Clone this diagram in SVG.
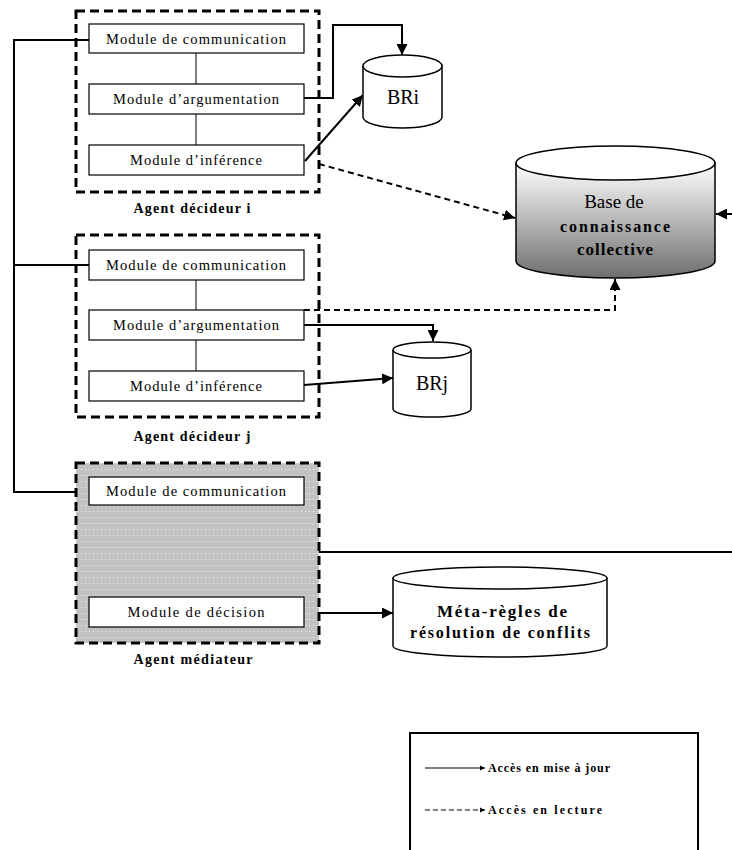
<svg xmlns="http://www.w3.org/2000/svg" width="732" height="850" viewBox="0 0 732 850">
  <style>
    .agent { fill: none; stroke: #000; stroke-width: 3; stroke-dasharray: 9 5; }
    .mod { fill: #fff; stroke: #000; stroke-width: 1.2; }
    .mtxt { font-family: "Liberation Serif", serif; font-size: 14.5px; fill: #000; text-anchor: middle; }
    .lbl { font-family: "Liberation Serif", serif; font-size: 14px; font-weight: bold; fill: #000; text-anchor: middle; }
    .db { stroke: #000; stroke-width: 1.5; }
    .dbtxt { font-family: "Liberation Serif", serif; fill: #000; text-anchor: middle; }
    .solid { fill: none; stroke: #000; stroke-width: 2; }
    .thin { fill: none; stroke: #000; stroke-width: 1; }
    .dash { fill: none; stroke: #000; stroke-width: 2; stroke-dasharray: 6 4; }
    .legtxt { font-family: "Liberation Serif", serif; font-size: 12px; font-weight: bold; fill: #000; }
  </style>
  <defs>
    <marker id="arr" viewBox="0 0 10 10" refX="10" refY="5" markerWidth="5.5" markerHeight="5.5" orient="auto" markerUnits="strokeWidth">
      <path d="M0,0 L10,5 L0,10 z" fill="#000"/>
    </marker>
    <linearGradient id="kbGrad" x1="0" y1="0" x2="0" y2="1">
      <stop offset="0" stop-color="#ffffff"/>
      <stop offset="1" stop-color="#6e6e6e"/>
    </linearGradient>
    <pattern id="dots" width="4" height="6" patternUnits="userSpaceOnUse">
      <rect width="4" height="6" fill="#c2c2c2"/>
      <rect x="1" y="1" width="1" height="1" fill="#f0f0f0"/>
    </pattern>
  </defs>

  <!-- connectors -->
  <g id="connectors">
    <!-- communication bus -->
    <polyline class="solid" points="89,40 14,40 14,492 89,492"/>
    <line class="solid" x1="14" y1="265" x2="89" y2="265"/>
    <!-- module links inside agents -->
    <line class="thin" x1="196" y1="53" x2="196" y2="84"/>
    <line class="thin" x1="196" y1="114" x2="196" y2="145"/>
    <line class="thin" x1="196" y1="280" x2="196" y2="310"/>
    <line class="thin" x1="196" y1="340" x2="196" y2="371"/>
    <line class="thin" x1="196" y1="505" x2="196" y2="597"/>
    <!-- agent i -->
    <polyline class="solid" points="304,98 333,98 333,25 402,25 402,55" marker-end="url(#arr)"/>
    <line class="solid" x1="305" y1="161" x2="363" y2="95" marker-end="url(#arr)"/>
    <line class="dash" x1="319" y1="164" x2="515" y2="218" marker-end="url(#arr)"/>
    <line class="solid" x1="732" y1="214" x2="716" y2="214" marker-end="url(#arr)"/>
    <!-- agent j -->
    <polyline class="dash" points="304,310 615,310 615,279" marker-end="url(#arr)"/>
    <polyline class="solid" points="304,325 433,325 433,341" marker-end="url(#arr)"/>
    <line class="solid" x1="304" y1="385" x2="393" y2="378" marker-end="url(#arr)"/>
    <!-- mediator -->
    <line class="solid" x1="319" y1="552" x2="732" y2="552"/>
    <line class="solid" x1="304" y1="613" x2="393" y2="613" marker-end="url(#arr)"/>
  </g>

  <!-- Agent décideur i -->
  <g id="agent-i">
    <rect class="agent" x="76" y="11" width="243" height="181"/>
    <rect class="mod" x="89" y="24" width="215" height="29"/>
    <text class="mtxt" x="196" y="44" textLength="180" lengthAdjust="spacing">Module de communication</text>
    <rect class="mod" x="89" y="84" width="215" height="30"/>
    <text class="mtxt" x="196" y="104" textLength="166" lengthAdjust="spacing">Module d’argumentation</text>
    <rect class="mod" x="89" y="145" width="215" height="30"/>
    <text class="mtxt" x="196" y="165" textLength="132" lengthAdjust="spacing">Module d’inférence</text>
    <text class="lbl" x="192" y="213" textLength="117" lengthAdjust="spacing">Agent décideur i</text>
  </g>

  <!-- Agent décideur j -->
  <g id="agent-j">
    <rect class="agent" x="76" y="235" width="243" height="182"/>
    <rect class="mod" x="89" y="250" width="215" height="30"/>
    <text class="mtxt" x="196" y="270" textLength="180" lengthAdjust="spacing">Module de communication</text>
    <rect class="mod" x="89" y="310" width="215" height="30"/>
    <text class="mtxt" x="196" y="330" textLength="166" lengthAdjust="spacing">Module d’argumentation</text>
    <rect class="mod" x="89" y="371" width="215" height="30"/>
    <text class="mtxt" x="196" y="391" textLength="132" lengthAdjust="spacing">Module d’inférence</text>
    <text class="lbl" x="192" y="441" textLength="117" lengthAdjust="spacing">Agent décideur j</text>
  </g>

  <!-- Agent médiateur -->
  <g id="agent-mediateur">
    <rect x="76" y="463" width="243" height="180" fill="url(#dots)"/>
    <rect class="agent" x="76" y="463" width="243" height="180"/>
    <rect class="mod" x="89" y="477" width="215" height="28"/>
    <text class="mtxt" x="196" y="496" textLength="180" lengthAdjust="spacing">Module de communication</text>
    <rect class="mod" x="89" y="597" width="215" height="30"/>
    <text class="mtxt" x="196" y="617" textLength="137" lengthAdjust="spacing">Module de décision</text>
    <text class="lbl" x="193" y="664" textLength="119" lengthAdjust="spacing">Agent médiateur</text>
  </g>

  <!-- BRi -->
  <g id="bri">
    <path class="db" fill="#fff" d="M363,66 L363,117 A39.5,11 0 0 0 442,117 L442,66"/>
    <ellipse class="db" fill="#fff" cx="402.5" cy="66" rx="39.5" ry="11"/>
    <text class="dbtxt" x="403" y="104" style="font-size:20px">BRi</text>
  </g>

  <!-- Base de connaissance collective -->
  <g id="kb">
    <path class="db" fill="url(#kbGrad)" d="M516,163 L516,261 A99.5,17 0 0 0 715,261 L715,163 z"/>
    <ellipse class="db" fill="#fff" cx="615.5" cy="163" rx="99.5" ry="17"/>
    <text class="dbtxt" x="614" y="208" style="font-size:19px">Base de</text>
    <text class="dbtxt" x="615" y="232" style="font-size:16px;font-weight:bold" textLength="110" lengthAdjust="spacing">connaissance</text>
    <text class="dbtxt" x="615" y="255" style="font-size:17px;font-weight:bold" textLength="76" lengthAdjust="spacing">collective</text>
  </g>

  <!-- BRj -->
  <g id="brj">
    <path class="db" fill="#fff" d="M393,350 L393,409 A39,8 0 0 0 471,409 L471,350"/>
    <ellipse class="db" fill="#fff" cx="432" cy="350" rx="39" ry="8"/>
    <text class="dbtxt" x="432" y="390" style="font-size:20px">BRj</text>
  </g>

  <!-- Méta-règles -->
  <g id="meta">
    <path class="db" fill="#fff" d="M393,578 L393,646 A107,11 0 0 0 607,646 L607,578"/>
    <ellipse class="db" fill="#fff" cx="500" cy="578" rx="107" ry="11"/>
    <text class="dbtxt" x="502" y="617" style="font-size:17px;font-weight:bold" textLength="130" lengthAdjust="spacing">Méta-règles de</text>
    <text class="dbtxt" x="500" y="638" style="font-size:16px;font-weight:bold" textLength="180" lengthAdjust="spacing">résolution de conflits</text>
  </g>

  <!-- legend -->
  <g id="legend">
    <rect x="410" y="733" width="288" height="130" fill="#fff" stroke="#000" stroke-width="2"/>
    <line class="thin" x1="425" y1="768" x2="485" y2="768" stroke-width="1.5" marker-end="url(#arr)"/>
    <text class="legtxt" x="488" y="772" textLength="122" lengthAdjust="spacing">Accès en mise à jour</text>
    <line class="thin" x1="425" y1="810" x2="485" y2="810" stroke-width="1.5" stroke-dasharray="5 3" marker-end="url(#arr)"/>
    <text class="legtxt" x="488" y="814" textLength="114" lengthAdjust="spacing">Accès en lecture</text>
  </g>
</svg>
